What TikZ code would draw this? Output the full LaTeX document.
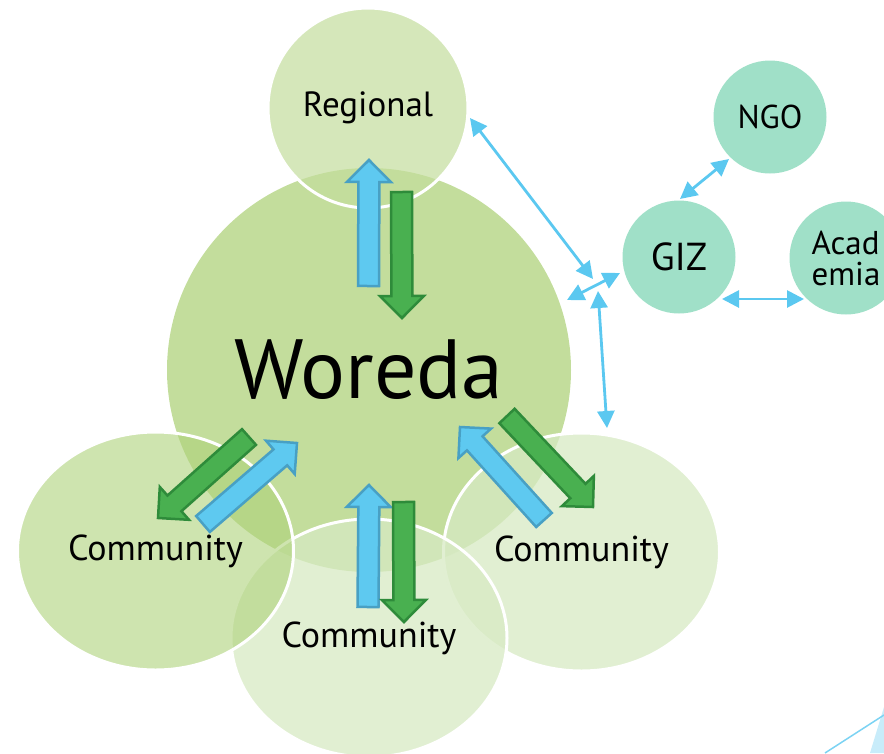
\documentclass[tikz,border=0pt]{standalone}
\usepackage{fontspec}
\setmainfont{PT Sans}
\usetikzlibrary{calc,arrows.meta,shapes.geometric}
\definecolor{woreda}{RGB}{195,221,156}
\definecolor{regbase}{RGB}{195,221,156}
\definecolor{commdark}{RGB}{174,210,122}
\definecolor{commlight}{RGB}{215,234,195}
\definecolor{mint}{RGB}{160,224,200}
\definecolor{bfill}{RGB}{94,201,240}
\definecolor{bedge}{RGB}{72,160,196}
\definecolor{gfill}{RGB}{73,176,80}
\definecolor{gedge}{RGB}{46,139,58}
\definecolor{conn}{RGB}{91,200,240}
\definecolor{deco}{RGB}{200,236,250}
\newcommand\blk[4]{%
  \coordinate (#2-a) at #3; \coordinate (#2-b) at #4;
  \coordinate (#2-h) at ($(#2-b)!22pt!(#2-a)$);
  \path[#1] ($(#2-a)!10.5pt!90:(#2-b)$) -- ($(#2-h)!10.5pt!-90:(#2-a)$)
    -- ($(#2-h)!22pt!-90:(#2-a)$) -- (#2-b) -- ($(#2-h)!22pt!90:(#2-a)$)
    -- ($(#2-h)!10.5pt!90:(#2-a)$) -- ($(#2-a)!10.5pt!-90:(#2-b)$) -- cycle;}
\tikzset{
  bigc/.style={circle, inner sep=0pt},
  comm/.style={ellipse, inner sep=0pt, minimum width=276pt, minimum height=238pt,
    draw=white, line width=3pt, text opacity=1, font=\fontsize{36}{40}\selectfont},
  mintc/.style={circle, fill=mint, minimum size=113pt, inner sep=0pt,
    font=\fontsize{34}{36}\selectfont},
  bluearr/.style={fill=bfill, draw=bedge, line width=2.5pt, line join=miter},
  greenarr/.style={fill=gfill, draw=gedge, line width=2.5pt, line join=miter},
  link/.style={draw=conn, line width=2.8pt, {Triangle[length=17pt,width=17pt]}-{Triangle[length=17pt,width=17pt]}},
}
\begin{document}
\begin{tikzpicture}[x=1pt,y=-1pt]
\useasboundingbox (0,0) rectangle (884,753);
\clip (0,0) rectangle (884,753);
% Woreda
\node[bigc, fill=woreda, minimum size=404pt, font=\fontsize{84}{86}\selectfont] (W) at (369,370) {Woreda};
% Regional
\node[bigc, fill=regbase, fill opacity=0.7, text opacity=1, draw=white, line width=3pt,
  minimum size=200pt, font=\fontsize{35}{38}\selectfont] (R) at (368,108) {Regional};
% communities
\node[comm, fill=commlight, fill opacity=0.75] (CR) at (581.5,552) {Community};
\node[comm, fill=commlight, fill opacity=0.75] (CB) at (369,638) {Community};
\node[comm, fill=commdark, fill opacity=0.6] (CL) at (155.5,551) {Community};
% block arrows
\blk{bluearr}{a1}{(368.5,286)}{(369,160)}
\blk{greenarr}{a2}{(401.5,192)}{(402,318)}
\blk{bluearr}{a3}{(368,607)}{(369,485)}
\blk{greenarr}{a4}{(403.5,502)}{(404,622)}
\blk{greenarr}{a5}{(249,437)}{(158,518)}
\blk{bluearr}{a6}{(203,524)}{(297,443)}
\blk{bluearr}{a7}{(544,520)}{(460,427)}
\blk{greenarr}{a8}{(507,416)}{(593,507)}
% partner circles
\node[mintc, font=\fontsize{39}{40}\selectfont] (GIZ) at (679,257) {GIZ};
\node[mintc, font=\fontsize{33}{36}\selectfont] (NGO) at (770,117) {NGO};
\node[mintc, align=left, font=\fontsize{33}{31}\selectfont] (ACA) at (846,258) {Acad\\emia};
% connectors
\coordinate (hubA) at (593,279);
\coordinate (hubB) at (598,291);
\coordinate (Wedge) at (567,300);
\coordinate (Redge) at (470,118);
\coordinate (CRtop) at (607,428);
\coordinate (Gtop) at (680,199);
\coordinate (Ntop) at (729,159);
\coordinate (Gr) at (722,299);
\coordinate (Al) at (804,299);
\coordinate (Gl) at (620,273);
\draw[link] (Redge) -- (hubA);
\draw[link] (Wedge) -- (Gl);
\draw[link] (hubB) -- (CRtop);
\draw[link] (Gtop) -- (Ntop);
\draw[link] (Gr) -- (Al);
% corner decoration
\fill[deco] (870,753) -- (884,707) -- (884,753) -- cycle;
\draw[conn!80, line width=1.5pt] (825,753) -- (884,715);
\end{tikzpicture}
\end{document}
